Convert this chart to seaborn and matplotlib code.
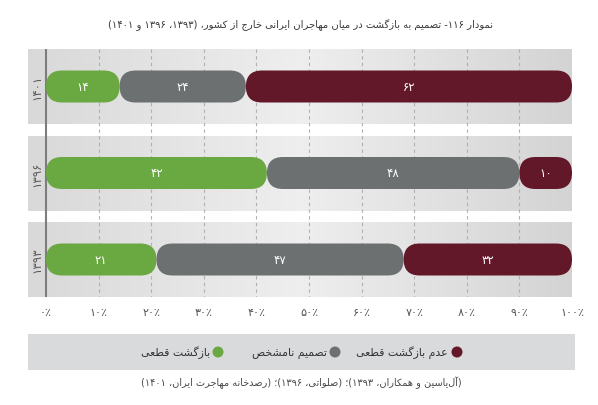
import re
import numpy as np
import pandas as pd
import matplotlib
matplotlib.use("Agg")
import matplotlib.pyplot as plt
from matplotlib.patches import FancyBboxPatch, Rectangle, Circle
import seaborn as sns

# ---------------- data ----------------
years = ["۱۴۰۱", "۱۳۹۶", "۱۳۹۳"]
series_names = ["بازگشت قطعی", "تصمیم نامشخص", "عدم بازگشت قطعی"]
definite_return = [14, 42, 21]
undecided = [24, 48, 47]
no_return = [62, 10, 32]
tick_values = [0, 10, 20, 30, 40, 50, 60, 70, 80, 90, 100]
title = "نمودار ۱۱۶- تصمیم به بازگشت در میان مهاجران ایرانی خارج از کشور، (۱۳۹۳، ۱۳۹۶ و ۱۴۰۱)"
source = "(آل\u200cیاسین و همکاران، ۱۳۹۳)؛ (صلواتی، ۱۳۹۶)؛ (رصدخانه مهاجرت ایران، ۱۴۰۱)"
colors = ["#6aa842", "#6d7071", "#621828"]

# ---------------- Persian shaping helpers ----------------
FORMS = {
    '\u0622': ('\uFE81', '\uFE82'),
    '\u0627': ('\uFE8D', '\uFE8E'),
    '\u0628': ('\uFE8F', '\uFE90', '\uFE91', '\uFE92'),
    '\u067E': ('\uFB56', '\uFB57', '\uFB58', '\uFB59'),
    '\u062A': ('\uFE95', '\uFE96', '\uFE97', '\uFE98'),
    '\u062B': ('\uFE99', '\uFE9A', '\uFE9B', '\uFE9C'),
    '\u062C': ('\uFE9D', '\uFE9E', '\uFE9F', '\uFEA0'),
    '\u0686': ('\uFB7A', '\uFB7B', '\uFB7C', '\uFB7D'),
    '\u062D': ('\uFEA1', '\uFEA2', '\uFEA3', '\uFEA4'),
    '\u062E': ('\uFEA5', '\uFEA6', '\uFEA7', '\uFEA8'),
    '\u062F': ('\uFEA9', '\uFEAA'),
    '\u0630': ('\uFEAB', '\uFEAC'),
    '\u0631': ('\uFEAD', '\uFEAE'),
    '\u0632': ('\uFEAF', '\uFEB0'),
    '\u0698': ('\uFB8A', '\uFB8B'),
    '\u0633': ('\uFEB1', '\uFEB2', '\uFEB3', '\uFEB4'),
    '\u0634': ('\uFEB5', '\uFEB6', '\uFEB7', '\uFEB8'),
    '\u0635': ('\uFEB9', '\uFEBA', '\uFEBB', '\uFEBC'),
    '\u0636': ('\uFEBD', '\uFEBE', '\uFEBF', '\uFEC0'),
    '\u0637': ('\uFEC1', '\uFEC2', '\uFEC3', '\uFEC4'),
    '\u0638': ('\uFEC5', '\uFEC6', '\uFEC7', '\uFEC8'),
    '\u0639': ('\uFEC9', '\uFECA', '\uFECB', '\uFECC'),
    '\u063A': ('\uFECD', '\uFECE', '\uFECF', '\uFED0'),
    '\u0641': ('\uFED1', '\uFED2', '\uFED3', '\uFED4'),
    '\u0642': ('\uFED5', '\uFED6', '\uFED7', '\uFED8'),
    '\u06A9': ('\uFB8E', '\uFB8F', '\uFB90', '\uFB91'),
    '\u0643': ('\uFED9', '\uFEDA', '\uFEDB', '\uFEDC'),
    '\u06AF': ('\uFB92', '\uFB93', '\uFB94', '\uFB95'),
    '\u0644': ('\uFEDD', '\uFEDE', '\uFEDF', '\uFEE0'),
    '\u0645': ('\uFEE1', '\uFEE2', '\uFEE3', '\uFEE4'),
    '\u0646': ('\uFEE5', '\uFEE6', '\uFEE7', '\uFEE8'),
    '\u0647': ('\uFEE9', '\uFEEA', '\uFEEB', '\uFEEC'),
    '\u0648': ('\uFEED', '\uFEEE'),
    '\u06CC': ('\uFBFC', '\uFBFD', '\uFBFE', '\uFBFF'),
    '\u064A': ('\uFEF1', '\uFEF2', '\uFEF3', '\uFEF4'),
}
DIGITS = "0123456789۰۱۲۳۴۵۶۷۸۹٪%"
MIRROR = str.maketrans("()[]", ")(][")


def shape(s):
    out = []
    n = len(s)
    for i, c in enumerate(s):
        if c == '\u200c':
            continue
        if c not in FORMS:
            out.append(c)
            continue
        prev = s[i - 1] if i > 0 else None
        nxt = s[i + 1] if i < n - 1 else None
        jp = prev is not None and prev in FORMS and len(FORMS[prev]) == 4
        jn = nxt is not None and nxt in FORMS and len(FORMS[c]) == 4
        f = FORMS[c]
        if jp and jn:
            out.append(f[3])
        elif jp:
            out.append(f[1])
        elif jn:
            out.append(f[2])
        else:
            out.append(f[0])
    return "".join(out)


def fa(s):
    s = shape(s)
    runs = re.findall(r"[%s]+|[^%s]+" % (DIGITS, DIGITS), s)
    out = []
    for r in reversed(runs):
        if r[0] in DIGITS:
            out.append(r)
        else:
            out.append(r[::-1].translate(MIRROR))
    return "".join(out)


def fa_num(v):
    return str(v).translate(str.maketrans("0123456789", "۰۱۲۳۴۵۶۷۸۹"))


# ---------------- figure ----------------
sns.set_style("white")
plt.rcParams['font.family'] = ['DejaVu Sans']

W, H = 598, 406
fig = plt.figure(figsize=(W / 100, H / 100), dpi=100)
fig.patch.set_facecolor("white")

ax_left, ax_right, ax_top, ax_bot = 28, 572, 50, 298
ax = fig.add_axes([ax_left / W, (H - ax_bot) / H, (ax_right - ax_left) / W, (ax_bot - ax_top) / H])

xpp = 100 / (ax_right - 46)          # data units per pixel (x)
x0 = -(46 - ax_left) * xpp
row_step = 86.5
half_band = 37.5 / row_step
ax.set_xlim(x0, 100)

# background gradient
grad = np.interp(np.linspace(0, 1, 300), [0, 0.5, 1], [0.85, 0.935, 0.83])
img = np.stack([grad, grad, grad], axis=-1)[None, :, :].repeat(2, axis=0)
ax.imshow(img, extent=(x0, 100, 2 + half_band, -half_band), aspect="auto", zorder=0)
for i in range(2):
    ax.add_patch(Rectangle((x0, i + half_band), 100 - x0, 1 - 2 * half_band,
                           facecolor="white", edgecolor="none", zorder=0.5))

# data table
df = pd.DataFrame({"year": years, series_names[0]: definite_return,
                   series_names[1]: undecided, series_names[2]: no_return})
long = df.melt(id_vars="year", var_name="series", value_name="value")
long["series"] = pd.Categorical(long["series"], series_names, ordered=True)
long["year"] = pd.Categorical(long["year"], years, ordered=True)
long = long.sort_values(["year", "series"])
long["end"] = long.groupby("year", observed=True)["value"].cumsum()
long["start"] = long["end"] - long["value"]
long["year"] = long["year"].astype(str)

bar_h = 32 / row_step
aspect = (1 / row_step) / xpp
for k, name in enumerate(series_names):
    sub = long[long["series"] == name].set_index("year").loc[years].reset_index()
    n_before = len(ax.patches)
    sns.barplot(data=sub, x="end", y="year", order=years, color=colors[k],
                width=bar_h, saturation=1, orient="h", ax=ax, zorder=3)
    rects = list(ax.patches[n_before:])
    for rect, (_, row) in zip(rects, sub.iterrows()):
        y, h = rect.get_y(), rect.get_height()
        rect.remove()
        r = (h / 2) / aspect
        pill = FancyBboxPatch((row["start"], y), row["value"], h,
                              boxstyle=f"round,pad=0,rounding_size={r}",
                              mutation_aspect=aspect, facecolor=colors[k],
                              edgecolor="none", zorder=3)
        ax.add_patch(pill)
        ax.text(row["start"] + row["value"] / 2, y + h / 2, fa_num(row["value"]),
                ha="center", va="center", color="white", fontsize=8.5, zorder=4)

ax.set_ylim(2 + half_band, -half_band)
ax.set_xlim(x0, 100)

# gridlines and axis line
ax.vlines(tick_values[1:], -half_band, 2 + half_band, colors="#b0b0b0",
          linestyles=(0, (3, 3)), linewidth=0.8, zorder=1)
ax.axvline(0, color="#7d7d7d", linewidth=1.5, zorder=2)

# year labels
for i, y in enumerate(years):
    ax.text(x0 / 2, i, y, rotation=90, ha="center", va="center",
            fontsize=8.5, color="#5a5a5a", zorder=4)

ax.set_xticks(tick_values)
ax.set_xticklabels([fa_num(t) + "٪" for t in tick_values], fontsize=8, color="#555555")
ax.tick_params(axis="x", length=0, pad=7)
ax.set_yticks([])
ax.set_xlabel("")
ax.set_ylabel("")
for sp in ax.spines.values():
    sp.set_visible(False)

# overlay in pixel coordinates for title, legend, source
ov = fig.add_axes([0, 0, 1, 1], facecolor="none", zorder=5)
ov.set_xlim(0, W)
ov.set_ylim(H, 0)
ov.axis("off")

ov.text(300, 25, fa(title), ha="center", va="center", fontsize=7.2, color="#3a3a3a")
ov.add_patch(Rectangle((28, 335), 547, 36, facecolor="#d9dadb", edgecolor="none"))
leg_items = [(218, 210, series_names[0], colors[0]),
             (335, 327, series_names[1], colors[1]),
             (457, 448, series_names[2], colors[2])]
for cx, tx, name, c in leg_items:
    ov.add_patch(Circle((cx, 353), 5.5, facecolor=c, edgecolor="none"))
    ov.text(tx, 353, fa(name), ha="right", va="center", fontsize=7.8, color="#333333")
ov.text(301, 383, fa(source), ha="center", va="center", fontsize=7, color="#4a4a4a")

fig.savefig("out.png", dpi=100)
